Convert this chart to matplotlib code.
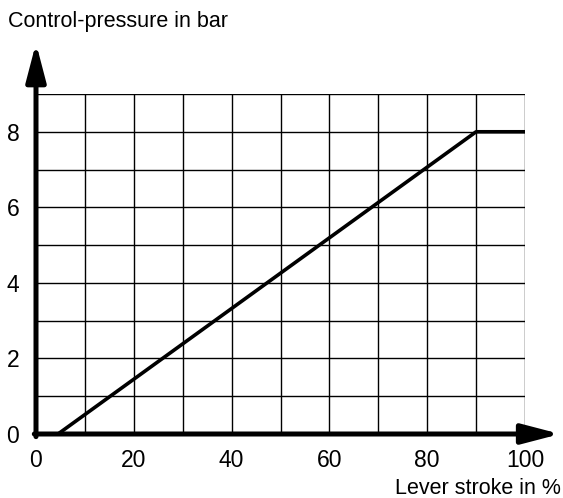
import matplotlib.pyplot as plt

plt.rcParams['font.family'] = ['Liberation Sans', 'DejaVu Sans']

# characteristic curve: lever stroke (%) -> control pressure (bar)
stroke = [4.5, 90, 100]
pressure = [0, 8, 8]

x_ticks = [0, 20, 40, 60, 80, 100]
y_ticks = [0, 2, 4, 6, 8]

W, H = 563, 498
fig = plt.figure(figsize=(W / 100, H / 100), dpi=100)
ax = fig.add_axes([36 / W, 1 - 434 / H, (525 - 36) / W, (434 - 94) / H])
ax.set_xlim(0, 100)
ax.set_ylim(0, 9)

# grid
for gx in range(10, 101, 10):
    ax.axvline(gx, color='black', lw=1.0, zorder=1)
for gy in range(1, 10):
    ax.axhline(gy, color='black', lw=1.0, zorder=1)

ax.plot(stroke, pressure, color='black', lw=2.6, solid_capstyle='butt', zorder=3)

for s in ax.spines.values():
    s.set_visible(False)

# axes with arrows
arrow = dict(arrowstyle='-|>,head_length=2.3,head_width=0.6',
             lw=3.6, color='black', shrinkA=0, shrinkB=0)
ax.annotate('', xy=(107.2, 0), xytext=(-0.35, 0), arrowprops=arrow,
            annotation_clip=False)
ax.annotate('', xy=(0, 10.35), xytext=(0, -0.07), arrowprops=arrow,
            annotation_clip=False)

ax.set_xticks(x_ticks)
ax.set_yticks(y_ticks)
ax.tick_params(axis='x', length=0, labelsize=16.5, pad=11)
ax.tick_params(axis='y', length=0, labelsize=16.5, pad=12)

fig.text(8 / W, 1 - 21 / H, 'Control-pressure in bar', fontsize=15.5,
         ha='left', va='center')
fig.text(561 / W, 1 - 488 / H, 'Lever stroke in %', fontsize=15.5,
         ha='right', va='center')

fig.savefig('out.png', dpi=100)
